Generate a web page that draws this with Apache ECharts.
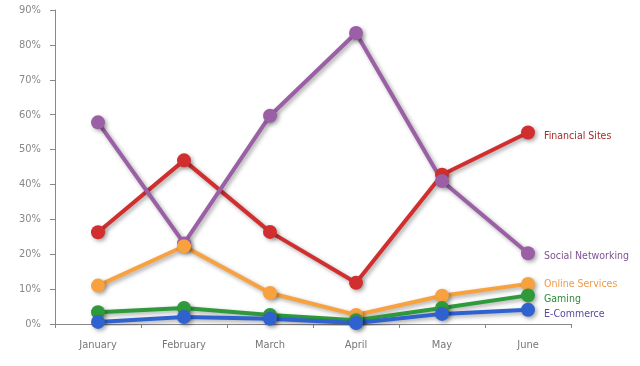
<!DOCTYPE html>
<html>
<head>
<meta charset="utf-8">
<script src="https://cdn.jsdelivr.net/npm/echarts@6/dist/echarts.min.js"></script>
<style>html,body{margin:0;padding:0;background:#fff;}#c{width:640px;height:366px;}</style>
</head>
<body>
<div id="c"></div>
<script>
var categories = ['January', 'February', 'March', 'April', 'May', 'June'];
var yTicks = [0, 10, 20, 30, 40, 50, 60, 70, 80, 90];
var financialSites = [26.3, 46.9, 26.4, 11.8, 42.8, 54.9];
var socialNetworking = [57.8, 23.1, 59.7, 83.4, 41.0, 20.3];
var onlineServices = [11.0, 22.3, 8.9, 2.6, 8.1, 11.5];
var gaming = [3.4, 4.6, 2.6, 1.1, 4.6, 8.2];
var eCommerce = [0.6, 2.0, 1.5, 0.3, 2.9, 4.1];

var seriesDefs = [
  {name: 'Financial Sites', data: financialSites, color: '#d12f2f', label: '#a52a2a', dy: 4},
  {name: 'Social Networking', data: socialNetworking, color: '#9b5fa6', label: '#7e5490', dy: 3},
  {name: 'Online Services', data: onlineServices, color: '#f8a23f', label: '#ef9a48', dy: 0},
  {name: 'Gaming', data: gaming, color: '#2f9a3c', label: '#2f8a3c', dy: 4},
  {name: 'E-Commerce', data: eCommerce, color: '#2f62cf', label: '#5a4a9e', dy: 5}
];

var chart = echarts.init(document.getElementById('c'), null, {renderer: 'canvas'});
var fontFam = '"DejaVu Sans Condensed", "Liberation Sans", sans-serif';
chart.setOption({
  animation: false,
  backgroundColor: '#fff',
  grid: {left: 55, right: 69, top: 10, bottom: 42, containLabel: false},
  xAxis: {
    type: 'category',
    data: categories,
    boundaryGap: true,
    axisLine: {lineStyle: {color: '#888', width: 1}},
    axisTick: {show: true, length: 4, lineStyle: {color: '#888'}, inside: false},
    axisLabel: {color: '#777', fontFamily: fontFam, fontSize: 11, margin: 16}
  },
  yAxis: {
    type: 'value',
    min: yTicks[0],
    max: yTicks[yTicks.length - 1],
    interval: 10,
    axisLine: {show: true, lineStyle: {color: '#888', width: 1}},
    axisTick: {show: true, length: 5, lineStyle: {color: '#888'}},
    splitLine: {show: false},
    axisLabel: {color: '#888', fontFamily: fontFam, fontSize: 11, margin: 14, formatter: '{value}%'}
  },
  series: seriesDefs.map(function (s) {
    return {
      name: s.name,
      type: 'line',
      data: s.data,
      symbol: 'circle',
      symbolSize: 14,
      color: s.color,
      lineStyle: {width: 4, color: s.color, shadowColor: 'rgba(0,0,0,0.35)', shadowBlur: 4, shadowOffsetX: 2, shadowOffsetY: 2},
      itemStyle: {color: s.color, shadowColor: 'rgba(0,0,0,0.35)', shadowBlur: 4, shadowOffsetX: 2, shadowOffsetY: 2},
      endLabel: {
        show: true,
        formatter: s.name,
        color: s.label,
        fontFamily: fontFam,
        fontSize: 10.5,
        distance: 16,
        offset: [0, s.dy]
      },
      z: 2
    };
  })
});
</script>
</body>
</html>
